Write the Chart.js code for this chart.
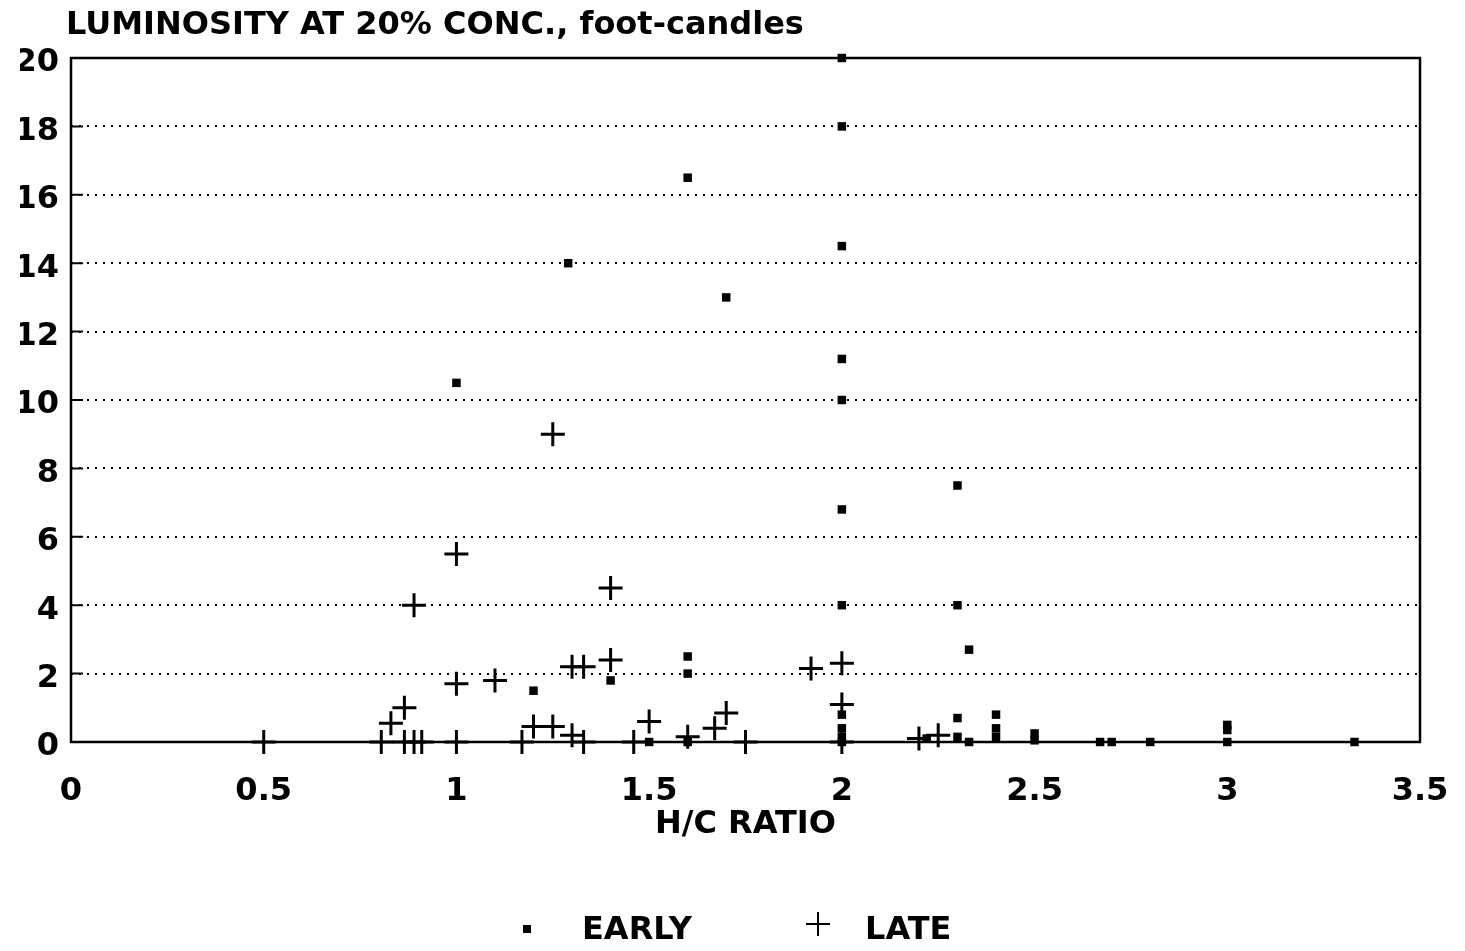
<!DOCTYPE html>
<html>
<head>
<meta charset="utf-8">
<script src="https://cdn.jsdelivr.net/npm/chart.js@4.4.1/dist/chart.umd.min.js"></script>
<style>
  html, body { margin: 0; padding: 0; background: #fff; }
  #wrap { width: 1465px; height: 951px; position: relative; }
</style>
</head>
<body>
<div id="wrap"><canvas id="c" width="1465" height="951"></canvas></div>
<script>
// ---- data ----
const chartTitle = 'LUMINOSITY AT 20% CONC., foot-candles';
const xAxisTitle = 'H/C RATIO';
const seriesNames = ['EARLY', 'LATE'];
const xTickLabels = ['0', '0.5', '1', '1.5', '2', '2.5', '3', '3.5'];
const yTickLabels = ['0', '2', '4', '6', '8', '10', '12', '14', '16', '18', '20'];

const earlyX = [2, 2, 1.6, 2, 1.29, 1.7, 2, 2, 1, 2.3, 2, 2, 2.3, 2.33, 1.6, 1.6, 1.2, 1.4,
  2, 2, 2, 2, 2.3, 2.3, 2.33, 2.4, 2.4, 2.4, 2.5, 2.5, 2.67, 2.7, 2.8, 3, 3, 3, 3.33, 1.5, 1.6, 2.22];
const earlyY = [20, 18, 16.5, 14.5, 14, 13, 11.2, 10, 10.5, 7.5, 6.8, 4, 4, 2.7, 2.5, 2, 1.5, 1.8,
  0.8, 0.4, 0.15, 0, 0.7, 0.15, 0, 0.8, 0.4, 0.15, 0.25, 0.05, 0, 0, 0, 0.5, 0.35, 0, 0, 0, 0, 0.1];

const lateX = [1.25, 1, 0.89, 1.4, 1, 1.1, 1.3, 1.33, 1.4, 1.92, 2, 2, 0.83, 0.865, 1.2, 1.25, 1.3,
  1.5, 1.6, 1.67, 1.7, 2.2, 2.25, 0.5, 0.805, 0.865, 0.89, 0.91, 1, 1.17, 1.33, 1.46, 1.75, 2];
const lateY = [9, 5.5, 4, 4.5, 1.7, 1.8, 2.2, 2.2, 2.4, 2.15, 2.3, 1.1, 0.55, 1.0, 0.45, 0.45, 0.2,
  0.6, 0.15, 0.4, 0.85, 0.1, 0.2, 0, 0, 0, 0, 0, 0, 0, 0, 0, 0, 0];

const toPts = (xs, ys) => xs.map((x, i) => ({ x: x, y: ys[i] }));

const FONT = '"DejaVu Sans", Verdana, sans-serif';
const tickFont = { family: FONT, size: 32, weight: 'bold' };

// frame, inner ticks, title and legend
const decorations = {
  id: 'decorations',
  beforeDatasetsDraw(chart) {
    const { ctx, chartArea: a } = chart;
    const ys = chart.scales.y;
    ctx.save();
    ctx.strokeStyle = '#000';
    ctx.lineWidth = 2.5;
    ctx.strokeRect(a.left, a.top, a.right - a.left, a.bottom - a.top);
    ctx.lineWidth = 2;
    ctx.beginPath();
    ys.ticks.forEach(t => {
      const py = ys.getPixelForValue(t.value);
      ctx.moveTo(a.left, py);
      ctx.lineTo(a.left + 12, py);
    });
    ctx.stroke();
    ctx.restore();
  },
  afterDraw(chart) {
    const { ctx, chartArea: a } = chart;
    ctx.save();
    ctx.fillStyle = '#000';
    ctx.strokeStyle = '#000';
    // title
    ctx.font = 'bold 32px ' + FONT;
    ctx.textBaseline = 'middle';
    ctx.textAlign = 'left';
    ctx.fillText(chartTitle, a.left - 5, 26);
    // legend
    const cy = 931;
    ctx.fillRect(523, cy - 6, 8, 8);
    ctx.fillText(seriesNames[0], 582, cy);
    ctx.lineWidth = 2;
    ctx.beginPath();
    ctx.moveTo(806, cy - 7); ctx.lineTo(830, cy - 7);
    ctx.moveTo(818, cy - 19); ctx.lineTo(818, cy + 5);
    ctx.stroke();
    ctx.fillText(seriesNames[1], 865, cy);
    ctx.restore();
  }
};

new Chart(document.getElementById('c'), {
  type: 'scatter',
  data: {
    datasets: [
      {
        label: seriesNames[0],
        data: toPts(earlyX, earlyY),
        pointStyle: 'rect',
        pointRadius: 6,
        pointHoverRadius: 6,
        backgroundColor: '#000',
        borderColor: '#000',
        borderWidth: 0,
        clip: false
      },
      {
        label: seriesNames[1],
        data: toPts(lateX, lateY),
        pointStyle: 'cross',
        pointRadius: 12,
        pointHoverRadius: 12,
        backgroundColor: '#000',
        borderColor: '#000',
        borderWidth: 3,
        clip: false
      }
    ]
  },
  options: {
    responsive: false,
    animation: false,
    events: [],
    layout: { padding: { left: 20, right: 45, top: 58, bottom: 99 } },
    plugins: {
      legend: { display: false },
      title: { display: false },
      tooltip: { enabled: false }
    },
    scales: {
      x: {
        type: 'linear',
        min: 0, max: 3.5,
        ticks: {
          stepSize: 0.5,
          color: '#000',
          font: tickFont,
          padding: 30,
          maxRotation: 0,
          callback: (v, i) => xTickLabels[i]
        },
        grid: { display: false, drawTicks: false },
        border: { display: false },
        title: { display: true, text: xAxisTitle, color: '#000', font: tickFont, padding: { top: 0, bottom: 8 } },
        afterFit: s => { s.height = 110; s.paddingRight = 0; s.paddingLeft = 0; }
      },
      y: {
        min: 0, max: 20,
        ticks: {
          stepSize: 2,
          color: '#000',
          font: tickFont,
          padding: 12,
          labelOffset: 5,
          callback: (v, i) => yTickLabels[i]
        },
        grid: { color: '#000', lineWidth: 2, drawTicks: false },
        border: { display: false, dash: [2, 6] },
        afterFit: s => { s.width = 51; }
      }
    }
  },
  plugins: [decorations]
});
</script>
</body>
</html>
